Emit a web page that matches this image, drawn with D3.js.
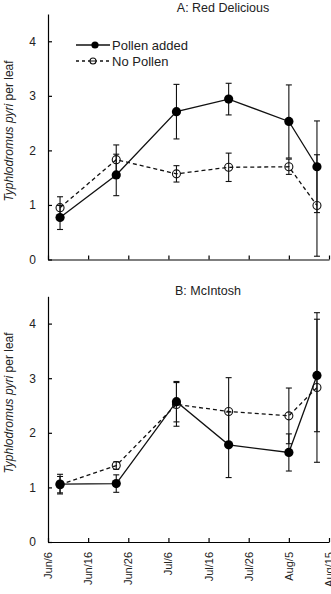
<!DOCTYPE html>
<html><head><meta charset="utf-8">
<script src="https://cdn.jsdelivr.net/npm/d3@7"></script>
<style>body{margin:0;background:#fff}svg{display:block;font-family:"Liberation Sans",Arial,sans-serif}</style>
</head><body>
<script>
const sampleDates = ["1996-06-09","1996-06-23","1996-07-08","1996-07-21","1996-08-05","1996-08-12"];
const tickDates = ["1996-06-06","1996-06-16","1996-06-26","1996-07-06","1996-07-16","1996-07-26","1996-08-05","1996-08-15"];
const tickLabels = ["Jun/6","Jun/16","Jun/26","Jul/6","Jul/16","Jul/26","Aug/5","Aug/15"];
const yTicks = [0,1,2,3,4];
const seriesNames = ["Pollen added","No Pollen"];

const pollenA = [0.77, 1.55, 2.71, 2.94, 2.53, 1.70];
const pollenAErr = [0.22, 0.38, 0.50, 0.29, 0.67, 0.84];
const noPollenA = [0.95, 1.83, 1.57, 1.69, 1.70, 0.99];
const noPollenAErr = [0.20, 0.27, 0.15, 0.26, 0.14, 0.93];

const pollenB = [1.06, 1.07, 2.57, 1.78, 1.64, 3.05];
const pollenBErr = [0.18, 0.16, 0.37, 0.60, 0.34, 1.03];
const noPollenB = [1.05, 1.40, 2.52, 2.39, 2.31, 2.83];
const noPollenBErr = [0.15, 0.07, 0.40, 0.62, 0.51, 1.37];

const W = 331, H = 594;
const parse = d3.timeParse("%Y-%m-%d");
const svg = d3.select("body").append("svg").attr("width", W).attr("height", H);

const x = d3.scaleTime().domain([parse(tickDates[0]), parse(tickDates[tickDates.length-1])]).range([48, 329]);

const panels = [
  {title:"A: Red Delicious", titleX:223, titleY:12, y0:259.5, y1:14, labelY:131,
   s:[{v:pollenA,e:pollenAErr},{v:noPollenA,e:noPollenAErr}], legend:true},
  {title:"B: McIntosh", titleX:208, titleY:295, y0:542, y1:296.3, labelY:403,
   s:[{v:pollenB,e:pollenBErr},{v:noPollenB,e:noPollenBErr}], legend:false, xlabels:true}
];

panels.forEach(p => {
  const y = d3.scaleLinear().domain([0,4.5]).range([p.y0, p.y1]);
  const g = svg.append("g");
  // axes
  const xa = d3.axisBottom(x).tickValues(tickDates.map(parse)).tickSizeInner(-4).tickSizeOuter(0).tickFormat("");
  g.append("g").attr("transform",`translate(0,${p.y0})`).call(xa)
    .call(a=>a.selectAll("line,path").attr("stroke","#000").attr("stroke-width",1.2));
  const ya = d3.axisLeft(y).tickValues(yTicks).tickSizeInner(-4).tickSizeOuter(0).tickPadding(12).tickFormat(d3.format("d"));
  g.append("g").attr("transform","translate(48,0)").call(ya)
    .call(a=>a.selectAll("line,path").attr("stroke","#000").attr("stroke-width",1.2))
    .call(a=>a.selectAll("text").attr("font-size",12).attr("fill","#222").attr("font-family","Liberation Sans, Arial"));
  if (p.xlabels) {
    g.selectAll(".xl").data(tickDates).enter().append("text")
      .attr("transform", (d)=>`translate(${x(parse(d))+4},${p.y0+10}) rotate(-90)`)
      .attr("text-anchor","end").attr("font-size",11).attr("fill","#222")
      .text((d,i)=>tickLabels[i]);
  }
  // title
  g.append("text").attr("x",p.titleX).attr("y",p.titleY).attr("text-anchor","middle")
    .attr("font-size",12.5).attr("fill","#222").text(p.title);
  // y label
  const yl = g.append("text").attr("transform",`translate(13,${p.labelY}) rotate(-90)`)
    .attr("text-anchor","middle").attr("font-size",12).attr("fill","#222");
  yl.append("tspan").attr("font-style","italic").text("Typhlodromus pyri");
  yl.append("tspan").text(" per leaf");

  // error bars
  p.s.forEach((s,si)=>{
    s.v.forEach((v,i)=>{
      const cx = x(parse(sampleDates[i]));
      const lo = Math.max(0, v - s.e[i]), hi = v + s.e[i];
      g.append("line").attr("x1",cx).attr("x2",cx).attr("y1",y(lo)).attr("y2",y(hi)).attr("stroke","#111").attr("stroke-width",1.1);
      [lo,hi].forEach(b=>g.append("line").attr("x1",cx-3).attr("x2",cx+3).attr("y1",y(b)).attr("y2",y(b)).attr("stroke","#111").attr("stroke-width",1.1));
    });
  });
  // lines
  const line = d3.line().x((d,i)=>x(parse(sampleDates[i]))).y(d=>y(d));
  g.append("path").datum(p.s[1].v).attr("d",line).attr("fill","none").attr("stroke","#111").attr("stroke-width",1.3).attr("stroke-dasharray","4,3");
  g.append("path").datum(p.s[0].v).attr("d",line).attr("fill","none").attr("stroke","#111").attr("stroke-width",1.3);
  // markers
  g.selectAll(".op").data(p.s[1].v).enter().append("circle")
    .attr("cx",(d,i)=>x(parse(sampleDates[i]))).attr("cy",d=>y(d)).attr("r",4)
    .attr("fill","none").attr("stroke","#111").attr("stroke-width",1.1);
  g.selectAll(".fp").data(p.s[0].v).enter().append("circle")
    .attr("cx",(d,i)=>x(parse(sampleDates[i]))).attr("cy",d=>y(d)).attr("r",4.6)
    .attr("fill","#000");

  if (p.legend) {
    const lg = g.append("g");
    lg.append("line").attr("x1",76).attr("x2",110).attr("y1",45).attr("y2",45).attr("stroke","#111").attr("stroke-width",1.3);
    lg.append("circle").attr("cx",95).attr("cy",45).attr("r",3.6).attr("fill","#000");
    lg.append("line").attr("x1",76).attr("x2",110).attr("y1",61).attr("y2",61).attr("stroke","#111").attr("stroke-width",1.3).attr("stroke-dasharray","3,3");
    lg.append("circle").attr("cx",93).attr("cy",61).attr("r",3).attr("fill","#fff").attr("stroke","#111").attr("stroke-width",1.1);
    lg.append("line").attr("x1",90).attr("x2",96).attr("y1",61).attr("y2",61).attr("stroke","#111").attr("stroke-width",1);
    lg.selectAll(".lt").data(seriesNames).enter().append("text")
      .attr("x",112).attr("y",(d,i)=>49.5+i*16).attr("font-size",13).attr("fill","#222").text(d=>d);
  }
});
</script>
</body></html>
